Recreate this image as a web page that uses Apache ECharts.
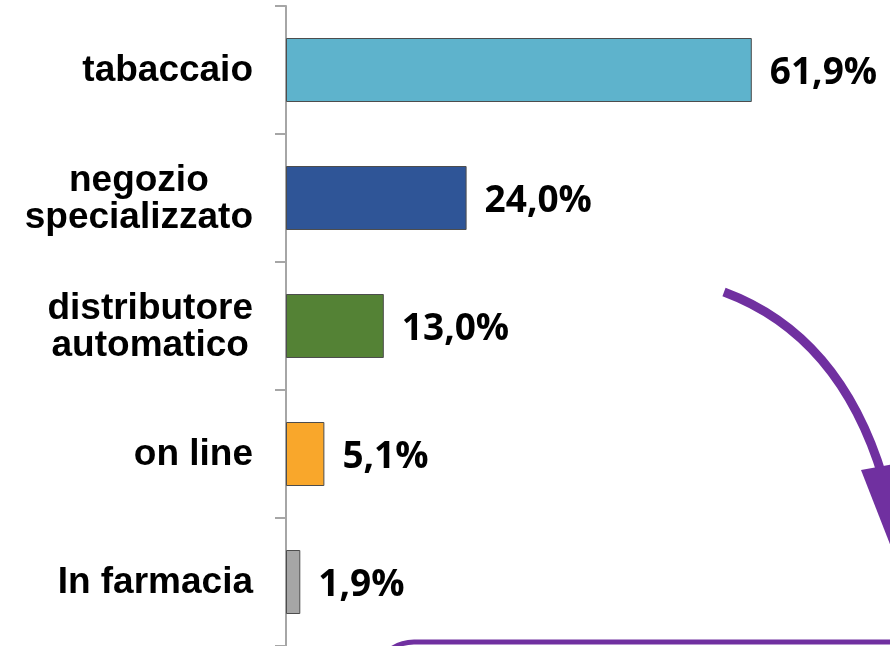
<!DOCTYPE html>
<html>
<head>
<meta charset="utf-8">
<script src="https://cdn.jsdelivr.net/npm/echarts@6/dist/echarts.min.js"></script>
<style>html,body{margin:0;padding:0;background:#fff}#c{width:890px;height:646px}</style>
</head>
<body>
<div id="c"></div>
<script>
const categories = ["tabaccaio", "negozio\nspecializzato", "distributore\nautomatico", "on line", "In farmacia"];
const values = [61.9, 24.0, 13.0, 5.1, 1.9];
const barColors = ["#5eb3cc", "#2f5597", "#548235", "#f9a72b", "#a6a6a6"];

const chart = echarts.init(document.getElementById('c'));
chart.setOption({
  animation: false,
  backgroundColor: '#fff',
  grid: { left: 286, right: 2, top: 6, bottom: 0, containLabel: false },
  xAxis: { type: 'value', min: 0, max: 80, show: false },
  yAxis: {
    type: 'category', inverse: true, data: categories,
    axisLine: { show: true, lineStyle: { color: '#a6a6a6', width: 2 } },
    axisTick: { show: true, length: 11, lineStyle: { color: '#a6a6a6', width: 2 } },
    axisLabel: {
      margin: 33, color: '#000',
      formatter: v => v.split('\n').map(s => '{c|' + s + '}').join('\n'),
      rich: { c: { align: 'center', fontFamily: 'Liberation Sans', fontWeight: 'bold', fontSize: 37, lineHeight: 37, color: '#000', padding: [2, 0, 0, 0] } }
    },
    splitLine: { show: false }
  },
  series: [{
    type: 'bar',
    data: values.map((v, i) => ({ value: v, itemStyle: { color: barColors[i] } })),
    barWidth: '50%',
    itemStyle: { borderColor: '#4d4d4d', borderWidth: 1 },
    label: {
      show: true, position: 'right', distance: 18, offset: [0, 3],
      formatter: p => p.value.toFixed(1).replace('.', ',') + '%',
      fontFamily: 'Open Sans', fontWeight: 'bold', fontSize: 37, color: '#000'
    }
  }],
  graphic: [
    { type: 'bezierCurve', shape: { x1: 724, y1: 292, x2: 883, y2: 478, cpx1: 840, cpy1: 335 },
      style: { stroke: '#7030a0', lineWidth: 9, fill: null }, z: 10 },
    { type: 'polygon', shape: { points: [[861, 470], [906, 462], [893, 552]] },
      style: { fill: '#7030a0' }, z: 10 },
    { type: 'rect', shape: { x: 374, y: 642, width: 620, height: 120, r: 40 },
      style: { stroke: '#7030a0', lineWidth: 5, fill: '#fff' }, z: 10 }
  ]
});
</script>
</body>
</html>
